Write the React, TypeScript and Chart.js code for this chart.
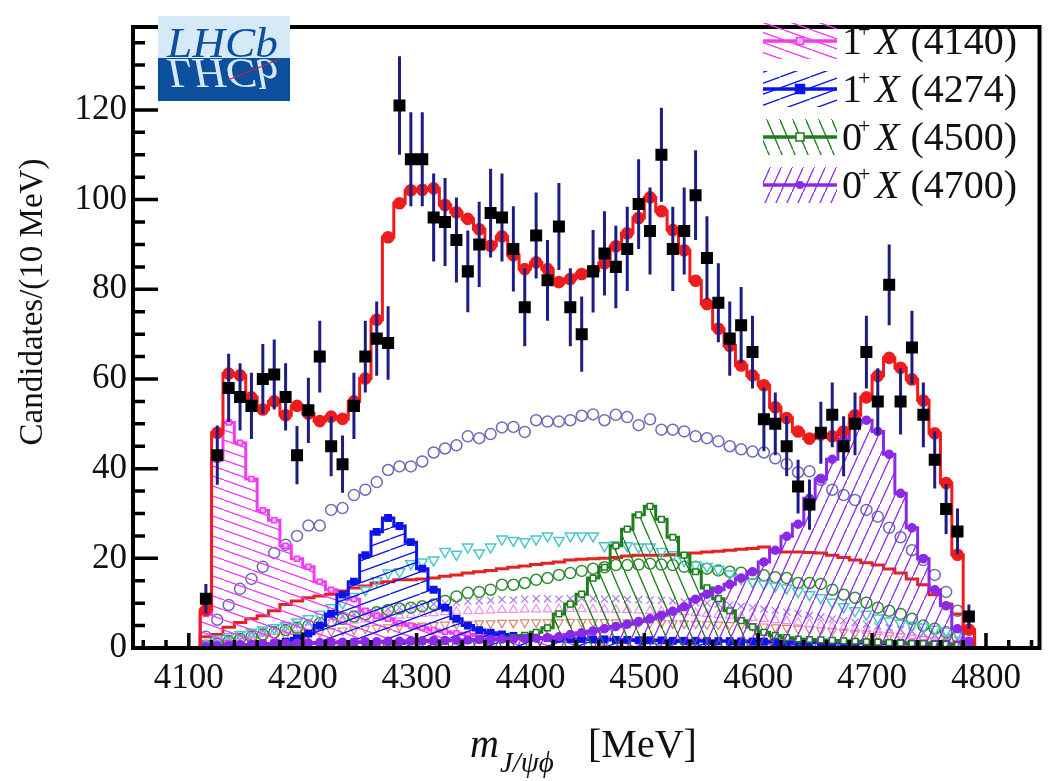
import React, { useEffect, useRef } from 'react';
import { Chart, registerables } from 'chart.js';

Chart.register(...registerables);

const FONT = '"Liberation Serif", "Times New Roman", serif';

// ---------- data ----------
const binCenters = [
  4115, 4125, 4135, 4145, 4155, 4165, 4175, 4185, 4195, 4205,
  4215, 4225, 4235, 4245, 4255, 4265, 4275, 4285, 4295, 4305,
  4315, 4325, 4335, 4345, 4355, 4365, 4375, 4385, 4395, 4405,
  4415, 4425, 4435, 4445, 4455, 4465, 4475, 4485, 4495, 4505,
  4515, 4525, 4535, 4545, 4555, 4565, 4575, 4585, 4595, 4605,
  4615, 4625, 4635, 4645, 4655, 4665, 4675, 4685, 4695, 4705,
  4715, 4725, 4735, 4745, 4755, 4765, 4775, 4785,
];
const binLow = 4110;
const binHigh = 4790;

const dataCounts = [
  11, 43, 58, 56, 54, 60, 61, 56, 43, 53,
  65, 45, 41, 54, 65, 69, 68, 121, 109, 109,
  96, 95, 91, 84, 90, 97, 96, 89, 76, 92,
  82, 94, 76, 70, 84, 88, 85, 89, 99, 93,
  110, 89, 93, 101, 87, 77, 69, 72, 66, 51,
  50, 45, 36, 32, 48, 52, 45, 50, 66, 55,
  81, 55, 67, 52, 42, 31, 26, 7,
];
const dataErrors = [
  3.3, 6.6, 7.6, 7.5, 7.4, 7.8, 7.8, 7.5, 6.5, 7.3,
  8.0, 6.7, 6.4, 7.4, 8.0, 8.3, 8.2, 11, 10.5, 10.5,
  9.8, 9.8, 9.5, 9.1, 9.5, 9.9, 9.8, 9.5, 8.7, 9.6,
  9.0, 9.7, 8.7, 8.4, 9.2, 9.4, 9.2, 9.4, 10, 9.7,
  10.5, 9.4, 9.7, 10, 9.3, 8.8, 8.3, 8.5, 8.1, 7.1,
  7.0, 6.7, 6.0, 5.6, 6.9, 7.2, 6.7, 7.0, 8.1, 7.4,
  9.0, 7.4, 8.2, 7.2, 6.4, 5.6, 5.1, 2.7,
];
const totalFit = [
  8.5, 48, 61.2, 60.8, 55.9, 53.2, 55, 51.9, 54, 52.3,
  50.6, 51.6, 51.1, 55, 60.1, 73.2, 91.6, 99.2, 102.1, 102.2,
  102.5, 98.8, 97.2, 95.7, 93.4, 89.7, 91.8, 87.6, 84.5, 86,
  84.5, 81.6, 82.3, 83.4, 84.1, 85.8, 89.6, 92.5, 95.9, 100.5,
  97.4, 93.2, 88.7, 81.9, 76.7, 71.2, 67.4, 63, 60.8, 58.6,
  53.7, 51.3, 48.3, 46.7, 47.6, 47.2, 48.3, 51.9, 55.9, 60.7,
  64.7, 62.5, 59.9, 55.2, 47.9, 36.8, 20.8, 4.1,
];
const x4140 = [
  7.6, 42, 50.3, 45.8, 37.7, 30.7, 28.5, 22.8, 19.9, 18.1,
  14.8, 13, 11.9, 10.9, 8.3, 7.2, 6.5, 5.5, 5, 4.5,
  4, 3.6, 3.3, 3, 2.8, 2.6, 2.4, 2.3, 2.2, 2.1,
  2.1, 2, 2, 2, 2, 2, 1.9, 1.9, 1.9, 1.9,
  1.8, 1.8, 1.8, 1.8, 1.7, 1.7, 1.7, 1.7, 1.6, 1.6,
  1.6, 1.6, 1.5, 1.5, 1.5, 1.5, 1.4, 1.4, 1.4, 1.4,
  1.3, 1.3, 1.3, 1.2, 1.2, 1.1, 1, 0.6,
];
const x4274 = [
  0.2, 0.3, 0.4, 0.5, 0.6, 0.8, 1, 1.4, 2.2, 3.2,
  5, 7.6, 11.9, 14.8, 20.7, 25.9, 29, 27.2, 23.6, 17.7,
  13, 9, 6.5, 5, 4, 3.4, 3, 2.7, 2.5, 2.3,
  2.2, 2.1, 2, 2, 1.9, 1.9, 1.8, 1.8, 1.7, 1.7,
  1.7, 1.6, 1.6, 1.6, 1.5, 1.5, 1.5, 1.4, 1.4, 1.4,
  1.3, 1.3, 1.3, 1.2, 1.2, 1.2, 1.1, 1.1, 1.1, 1,
  1, 1, 0.9, 0.9, 0.8, 0.8, 0.6, 0.3,
];
const x4500 = [
  0.3, 0.4, 0.5, 0.5, 0.6, 0.7, 0.8, 0.8, 0.9, 1,
  1, 1.1, 1.1, 1.2, 1.2, 1.3, 1.3, 1.4, 1.4, 1.5,
  1.5, 1.6, 1.6, 1.7, 1.8, 1.8, 2, 2.3, 2.8, 3.5,
  4.5, 7.6, 9.8, 12, 15.6, 18, 22.8, 26.5, 29.7, 31.6,
  28.7, 24.7, 20.7, 17, 13.4, 11, 8.3, 6.1, 4.7, 3.5,
  2.8, 2.3, 2, 1.9, 1.8, 1.7, 1.6, 1.5, 1.4, 1.3,
  1.2, 1.1, 1, 1, 0.9, 0.8, 0.6, 0.3,
];
const x4700 = [
  0.3, 0.5, 0.6, 0.7, 0.8, 0.9, 1, 1, 1.1, 1.1,
  1.2, 1.2, 1.3, 1.3, 1.4, 1.4, 1.5, 1.5, 1.6, 1.6,
  1.7, 1.7, 1.8, 1.8, 1.9, 1.9, 2, 2, 2.1, 2.2,
  2.3, 2.5, 3, 3.4, 3.8, 4.3, 4.8, 5.3, 5.9, 6.5,
  7.3, 8.2, 9.2, 10.9, 12, 13, 14.2, 15.6, 17, 19.2,
  21.8, 24.9, 27.6, 33.4, 37.7, 42.1, 46.5, 49.9, 50.8, 48.3,
  43.2, 34.5, 26.8, 19.9, 13, 9.4, 4.3, 1.5,
];
const openCircles = [
  2.5, 6.3, 9.6, 13.2, 15.4, 18.1, 21.2, 23, 25, 27.3,
  27.3, 30.8, 31.2, 34.1, 35.3, 37, 39.7, 40.5, 40.5, 41.6,
  43.6, 44.5, 45.2, 47.2, 46.8, 47.7, 49.2, 49.3, 48.2, 50.8,
  50.5, 50.5, 50.8, 51.8, 52.1, 50.8, 52, 51.5, 49.7, 51,
  48.7, 48.7, 48.3, 47.2, 46.8, 46.1, 45, 44.3, 43.8, 43.6,
  42.3, 41, 39.2, 39.4, 37.5, 35.3, 34.1, 33, 30.8, 29.3,
  26.8, 24.7, 21.8, 19.6, 16.3, 12.5, 8.3, 3,
];
const cyanTriangles = [
  1, 2, 2.5, 3, 3.5, 4, 4.5, 5, 5.8, 6.5,
  7.5, 9, 10, 11.5, 13, 15, 16.7, 17, 18.8, 19.2,
  19.6, 21.5, 20.9, 22.5, 21.2, 22.5, 24.3, 24, 23.7, 24.3,
  25, 24, 25, 25, 25, 22.8, 23, 22.8, 22.5, 22.5,
  21.5, 20.8, 19.5, 18.5, 18.2, 17.5, 16.5, 15.5, 14.8, 14.3,
  13.8, 13.4, 12.6, 11.9, 11.2, 10.2, 9.2, 8.3, 7.5, 6.7,
  6, 5.5, 5.1, 4.7, 4.2, 3.8, 3.3, 1.5,
];
const nrLine = [
  2.5, 3, 4.6, 5.7, 6.5, 7.2, 8.3, 9.7, 10.5, 11.2,
  11.6, 12, 12.7, 13.4, 13.8, 14.5, 14.8, 15.2, 15.2, 15.4,
  15.6, 16, 16.3, 16.7, 17, 17.3, 17.7, 18, 18.3, 18.6,
  18.9, 19.2, 19.6, 19.8, 19.9, 20, 20.2, 20.5, 20.7, 20.7,
  20.7, 20.8, 21, 21.2, 21.4, 21.6, 21.8, 22, 22.2, 22.5,
  21.4, 21.4, 21.4, 21.3, 21.2, 20.7, 20.2, 19.6, 19, 18.5,
  17.6, 16.7, 15.4, 14.1, 11.9, 9.8, 7.6, 3.3,
];
const greenCircles = [
  0.5, 1, 1.5, 2, 2.5, 3, 3.5, 4, 4.5, 5,
  5.5, 6, 6.5, 7, 7.5, 8, 8.5, 8.8, 9, 9.3,
  9.7, 10.5, 11.5, 12.3, 12.5, 13, 14.1, 14.1, 14.5, 15.2,
  15.6, 16.3, 16.7, 17.2, 17.7, 18, 18.5, 18.5, 18.6, 18.8,
  18.6, 18.5, 18.1, 18.1, 17.7, 17.3, 17, 16.8, 16.5, 16.2,
  15.8, 15.6, 14.5, 14.5, 14.3, 13, 11.9, 11.2, 10.1, 9,
  8.3, 7.6, 6.5, 5, 4.3, 3.5, 2.5, 1,
];
const violetCrosses = [
  0.5, 1.5, 2.2, 2.8, 3.3, 3.8, 4.3, 4.8, 5.3, 5.8,
  6.3, 6.8, 7.2, 7.6, 8, 8.4, 8.7, 9, 9.3, 9.5,
  9.8, 10, 10.2, 10.4, 10.5, 10.6, 10.8, 10.7, 10.9, 11,
  11, 10.9, 11, 11.1, 11, 10.9, 11, 10.8, 10.8, 10.7,
  10.6, 10.5, 10.3, 10.1, 10, 9.8, 9.6, 9.3, 9, 8.7,
  8.4, 8, 7.7, 7.3, 6.9, 6.5, 6.1, 5.7, 5.3, 4.9,
  4.5, 4.1, 3.7, 3.3, 2.9, 2.4, 1.8, 1,
];
const pinkTriangles = [
  0.4, 1.2, 1.8, 2.3, 2.8, 3.2, 3.6, 4, 4.4, 4.8,
  5.2, 5.5, 5.8, 6.1, 6.4, 6.7, 7, 7.2, 7.4, 7.6,
  7.8, 8, 8.1, 8.2, 8.3, 8.4, 8.5, 8.5, 8.6, 8.6,
  8.6, 8.7, 8.7, 8.7, 8.6, 8.6, 8.5, 8.5, 8.4, 8.3,
  8.2, 8.1, 8, 7.8, 7.6, 7.4, 7.2, 7, 6.7, 6.5,
  6.2, 6, 5.7, 5.4, 5.1, 4.8, 4.5, 4.2, 3.9, 3.6,
  3.3, 3, 2.7, 2.4, 2.1, 1.7, 1.3, 0.7,
];
const brownTriangles = [
  0.3, 0.8, 1.2, 1.6, 1.9, 2.2, 2.5, 2.8, 3, 3.3,
  3.5, 3.7, 3.9, 4.1, 4.3, 4.5, 4.6, 4.8, 4.9, 5,
  5.1, 5.2, 5.3, 5.4, 5.5, 5.5, 5.6, 5.6, 5.7, 5.7,
  5.7, 5.7, 5.8, 5.8, 5.8, 5.8, 5.7, 5.7, 5.7, 5.6,
  5.6, 5.5, 5.5, 5.4, 5.3, 5.2, 5.1, 5, 4.9, 4.8,
  4.6, 4.5, 4.3, 4.2, 4, 3.8, 3.6, 3.4, 3.2, 3,
  2.8, 2.6, 2.3, 2, 1.7, 1.4, 1, 0.5,
];

const xTickValues = [4100, 4200, 4300, 4400, 4500, 4600, 4700, 4800];
const yTickValues = [0, 20, 40, 60, 80, 100, 120];
const legendSpins = ['1', '1', '0', '0'];
const legendMasses = ['(4140)', '(4274)', '(4500)', '(4700)'];
const yAxisTitle = 'Candidates/(10 MeV)';
const xTitleMain = 'm';
const xTitleSub = 'J/\u03C8\u03D5';
const xTitleUnit = '[MeV]';
const logoText = 'LHCb';

const X_MIN = 4051;
const X_MAX = 4847;
const Y_MAX = 138.5;

const C_RED = '#ee1c1c';
const C_MAG = '#f03cf0';
const C_BLUE = '#0a14e6';
const C_GREEN = '#1e7d1e';
const C_PURPLE = '#8c28e8';

// ---------- helpers ----------
function histPoints(vals: number[]) {
  const pts: { x: number; y: number }[] = [{ x: binLow, y: 0 }, { x: binLow, y: vals[0] }];
  vals.forEach((v, i) => pts.push({ x: binCenters[i], y: v }));
  pts.push({ x: binHigh, y: vals[vals.length - 1] }, { x: binHigh, y: 0 });
  return pts;
}
function centerPoints(vals: number[]) {
  return vals.map((v, i) => ({ x: binCenters[i], y: v }));
}
function markerRadius(r: number, n: number) {
  return (c: any) => (c.dataIndex < 2 || c.dataIndex >= n + 2 ? 0 : r);
}
function makeHatch(color: string, w: number, h: number, dir: number, lw: number) {
  const c = document.createElement('canvas');
  c.width = w;
  c.height = h;
  const g = c.getContext('2d')!;
  g.strokeStyle = color;
  g.lineWidth = lw;
  g.beginPath();
  for (let k = -1; k <= 1; k++) {
    if (dir > 0) {
      g.moveTo(k * w, k * h);
      g.lineTo(k * w + w, k * h + h);
    } else {
      g.moveTo(k * w, h - k * h);
      g.lineTo(k * w + w, -k * h);
    }
  }
  g.stroke();
  return g.createPattern(c, 'repeat')!;
}

export default function App() {
  const ref = useRef<HTMLCanvasElement | null>(null);

  useEffect(() => {
    const canvas = ref.current!;
    const pMag = makeHatch(C_MAG, 28, 10, 1, 1.3);
    const pBlue = makeHatch(C_BLUE, 30, 11, -1, 1.3);
    const pGreen = makeHatch(C_GREEN, 13, 30, 1, 1.3);
    const pPurple = makeHatch(C_PURPLE, 11, 24, -1, 1.3);
    const n = binCenters.length;

    const errPts: { x: number; y: number | null }[] = [];
    binCenters.forEach((x, i) => {
      errPts.push({ x, y: dataCounts[i] - dataErrors[i] });
      errPts.push({ x, y: dataCounts[i] + dataErrors[i] });
      errPts.push({ x, y: null });
    });

    const hist = (label: string, vals: number[], color: string, pattern: CanvasPattern, style: string, r: number, pbg: string, lw = 3) => ({
      label,
      data: histPoints(vals),
      borderColor: color,
      borderWidth: lw,
      backgroundColor: pattern,
      fill: 'origin',
      stepped: 'middle',
      pointStyle: style,
      pointRadius: markerRadius(r, n),
      pointBackgroundColor: pbg,
      pointBorderColor: color,
      pointBorderWidth: 1.5,
    });
    const markers = (label: string, vals: number[], color: string, style: string, r: number, rot = 0, bw = 1.5) => ({
      label,
      data: centerPoints(vals),
      showLine: false,
      borderColor: color,
      backgroundColor: 'rgba(0,0,0,0)',
      pointStyle: style,
      pointRadius: r,
      pointRotation: rot,
      pointBorderColor: color,
      pointBackgroundColor: 'rgba(0,0,0,0)',
      pointBorderWidth: bw,
    });

    const decor = {
      id: 'decor',
      afterDatasetsDraw(chart: any) {
        const { ctx, chartArea: a, scales } = chart;
        const xs = scales.x;
        const ys = scales.y;
        ctx.save();
        // inward ticks
        ctx.strokeStyle = '#000';
        ctx.lineWidth = 3.5;
        ctx.beginPath();
        for (let v = 4060; v <= 4840; v += 20) {
          const px = xs.getPixelForValue(v);
          const len = v % 100 === 0 ? 15 : 8;
          ctx.moveTo(px, a.bottom);
          ctx.lineTo(px, a.bottom - len);
        }
        for (let v = 5; v <= 135; v += 5) {
          const py = ys.getPixelForValue(v);
          const len = v % 20 === 0 ? 25 : 12;
          ctx.moveTo(a.left, py);
          ctx.lineTo(a.left + len, py);
        }
        ctx.stroke();
        // frame
        ctx.lineWidth = 4;
        ctx.strokeRect(a.left, a.top, a.right - a.left, a.bottom - a.top);

        // LHCb logo
        const lx = 158, ly = 16, lw = 132, lh = 85, split = 58;
        ctx.fillStyle = '#d6e9f7';
        ctx.fillRect(lx, ly, lw, split - ly);
        ctx.fillStyle = '#0b4f9d';
        ctx.fillRect(lx, split, lw, ly + lh - split);
        ctx.font = `italic 40px ${FONT}`;
        ctx.textBaseline = 'alphabetic';
        ctx.textAlign = 'left';
        const tw = ctx.measureText(logoText).width;
        const sx = 111 / tw;
        ctx.save();
        ctx.translate(167, split - 1);
        ctx.scale(sx, 1.05);
        ctx.fillStyle = '#0b4f9d';
        ctx.fillText(logoText, 0, 0);
        ctx.restore();
        ctx.save();
        ctx.translate(167, split + 1);
        ctx.scale(sx, -1.05);
        ctx.fillStyle = '#d6e9f7';
        ctx.fillText(logoText, 0, 0);
        ctx.restore();
        ctx.strokeStyle = '#c0283c';
        ctx.lineWidth = 1.3;
        ctx.beginPath();
        ctx.moveTo(228, 80);
        ctx.lineTo(280, 59);
        ctx.stroke();

        // legend
        const entries = [
          { color: C_MAG, pat: pMag, style: 'rect', r: 3.5, bg: '#ffb4ff' },
          { color: C_BLUE, pat: pBlue, style: 'rect', r: 4.5, bg: C_BLUE },
          { color: C_GREEN, pat: pGreen, style: 'rect', r: 4, bg: '#ffffff' },
          { color: C_PURPLE, pat: pPurple, style: 'circle', r: 4, bg: C_PURPLE },
        ];
        const baselines = [54, 102, 150, 198];
        entries.forEach((e, i) => {
          const base = baselines[i];
          const yc = base - 13;
          ctx.save();
          ctx.beginPath();
          ctx.rect(763, yc - 18, 74, 36);
          ctx.clip();
          ctx.fillStyle = e.pat;
          ctx.fillRect(763, yc - 18, 74, 36);
          ctx.restore();
          ctx.strokeStyle = e.color;
          ctx.lineWidth = 3.5;
          ctx.beginPath();
          ctx.moveTo(763, yc);
          ctx.lineTo(837, yc);
          ctx.stroke();
          ctx.fillStyle = e.bg;
          ctx.lineWidth = 1.5;
          if (e.style === 'rect') {
            ctx.fillRect(800 - e.r, yc - e.r, 2 * e.r, 2 * e.r);
            ctx.strokeRect(800 - e.r, yc - e.r, 2 * e.r, 2 * e.r);
          } else {
            ctx.beginPath();
            ctx.arc(800, yc, e.r, 0, Math.PI * 2);
            ctx.fill();
          }
          const x0 = 842;
          ctx.fillStyle = '#111';
          ctx.font = `40px ${FONT}`;
          ctx.fillText(legendSpins[i], x0, base);
          ctx.font = `22px ${FONT}`;
          ctx.fillText('+', x0 + 16, base - 17);
          ctx.font = `italic 40px ${FONT}`;
          ctx.fillText('X', x0 + 33, base);
          const wx = ctx.measureText('X').width;
          ctx.font = `40px ${FONT}`;
          ctx.fillText(legendMasses[i], x0 + 33 + wx + 11, base);
        });

        // axis titles
        ctx.fillStyle = '#111';
        ctx.font = `italic 40px ${FONT}`;
        ctx.fillText(xTitleMain, 470, 757);
        const mw = ctx.measureText(xTitleMain).width;
        ctx.font = `italic 29px ${FONT}`;
        ctx.fillText(xTitleSub, 470 + mw + 1, 772);
        ctx.font = `40px ${FONT}`;
        ctx.fillText(xTitleUnit, 588, 757);

        ctx.save();
        ctx.translate(33, 302);
        ctx.rotate(-Math.PI / 2);
        ctx.textAlign = 'center';
        ctx.textBaseline = 'middle';
        ctx.font = `33px ${FONT}`;
        ctx.fillText(yAxisTitle, 0, 0);
        ctx.restore();
        ctx.restore();
      },
    };

    const chart = new Chart(canvas, {
      type: 'line',
      data: {
        datasets: [
          {
            label: 'Data',
            data: centerPoints(dataCounts),
            showLine: false,
            pointStyle: 'rect',
            pointRadius: 8.5,
            pointBackgroundColor: '#000',
            pointBorderWidth: 0,
            borderColor: '#000',
          },
          {
            label: 'errors',
            data: errPts,
            borderColor: '#1c1c82',
            borderWidth: 3,
            pointRadius: 0,
            spanGaps: false,
            fill: false,
          },
          {
            label: 'Total fit',
            data: histPoints(totalFit),
            borderColor: C_RED,
            borderWidth: 3,
            stepped: 'middle',
            fill: false,
            pointStyle: 'circle',
            pointRadius: markerRadius(4.8, n),
            pointBackgroundColor: C_RED,
            pointBorderColor: C_RED,
          },
          hist('0+ X(4700)', x4700, C_PURPLE, pPurple, 'circle', 4, C_PURPLE),
          hist('0+ X(4500)', x4500, C_GREEN, pGreen, 'rect', 4, '#ffffff'),
          hist('1+ X(4274)', x4274, C_BLUE, pBlue, 'rect', 4.5, C_BLUE),
          hist('1+ X(4140)', x4140, C_MAG, pMag, 'rect', 3.5, '#ffb4ff'),
          markers('open circles', openCircles, '#6b6bb8', 'circle', 5.5),
          markers('cyan', cyanTriangles, '#4cc6c6', 'triangle', 6, 180),
          {
            label: 'NR',
            data: histPoints(nrLine),
            borderColor: '#e52222',
            borderWidth: 3,
            stepped: 'middle',
            fill: false,
            pointRadius: 0,
          },
          markers('green circles', greenCircles, '#2e8b2e', 'circle', 5.5),
          markers('violet', violetCrosses, '#a878ec', 'crossRot', 5, 0, 1.2),
          markers('pink', pinkTriangles, '#ec90ec', 'triangle', 5, 0, 1.2),
          markers('brown', brownTriangles, '#d4846e', 'triangle', 5, 180, 1.2),
        ] as any,
      },
      options: {
        animation: false,
        responsive: false,
        devicePixelRatio: 1,
        events: [],
        layout: { padding: { top: 13, right: 3, left: 0, bottom: 0 } },
        plugins: {
          legend: { display: false },
          tooltip: { enabled: false },
          title: { display: false },
        },
        scales: {
          x: {
            type: 'linear',
            min: X_MIN,
            max: X_MAX,
            grid: { display: false, drawTicks: false },
            border: { display: false },
            afterBuildTicks: (s: any) => {
              s.ticks = xTickValues.map((v) => ({ value: v }));
            },
            ticks: {
              autoSkip: false,
              maxRotation: 0,
              padding: 10,
              color: '#111',
              font: { family: FONT, size: 35 },
              callback: (v: any) => String(v),
            },
            afterFit: (s: any) => {
              s.height = 133;
            },
          },
          y: {
            type: 'linear',
            min: 0,
            max: Y_MAX,
            grid: { display: false, drawTicks: false },
            border: { display: false },
            afterBuildTicks: (s: any) => {
              s.ticks = yTickValues.map((v) => ({ value: v }));
            },
            ticks: {
              padding: 6,
              color: '#111',
              font: { family: FONT, size: 35 },
              callback: (v: any) => String(v),
            },
            afterFit: (s: any) => {
              s.width = 133;
            },
          },
        },
      } as any,
      plugins: [decor],
    });
    return () => chart.destroy();
  }, []);

  return (
    <div style={{ position: 'absolute', left: 0, top: 0, width: 1048, height: 781, background: '#fff' }}>
      <canvas ref={ref} width={1048} height={781} style={{ display: 'block' }} />
    </div>
  );
}
